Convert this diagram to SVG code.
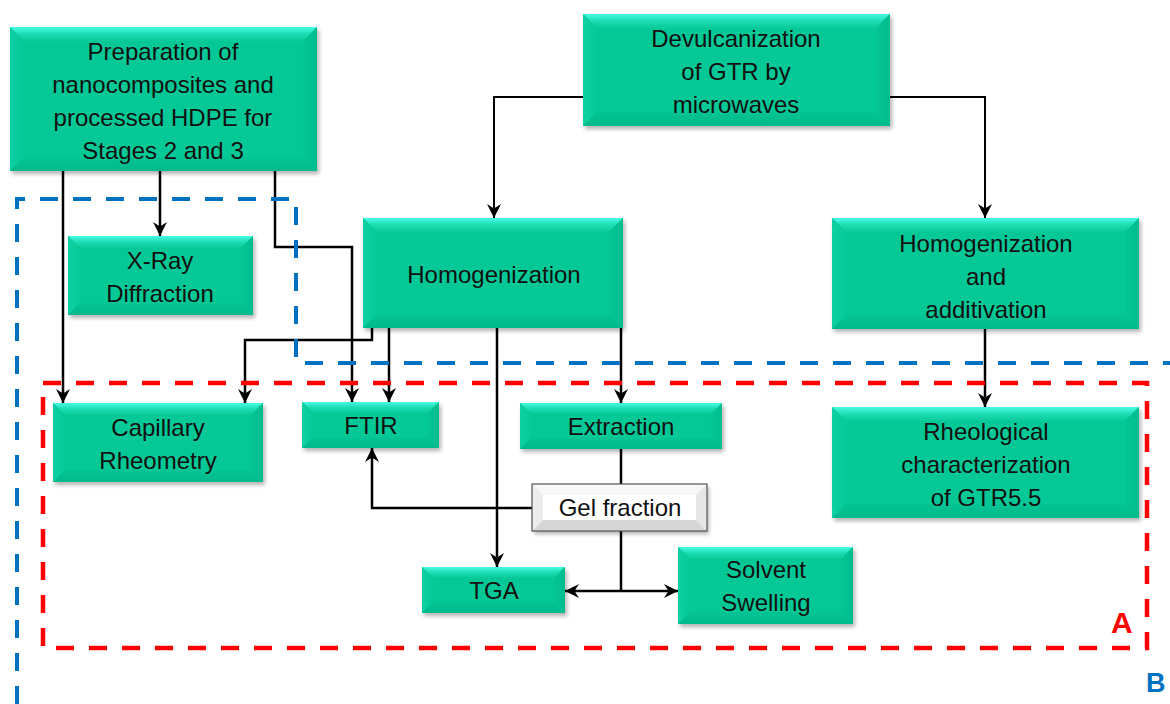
<svg xmlns="http://www.w3.org/2000/svg" width="1170" height="704" viewBox="0 0 1170 704">
<defs>
<style>
.face{fill:#05c897}
.bt{fill:url(#gTop)}
.bl{fill:url(#gLeft)}
.br{fill:url(#gRight)}
.bb{fill:url(#gBot)}
.gface{fill:#ffffff}
.gbt{fill:#f7f7f7}
.gbl{fill:#ececec}
.gbr{fill:#e6e6e6}
.gbb{fill:#d6d6d6}
.sh{fill:#000;opacity:.3;filter:url(#blur)}
.t{font-family:"Liberation Sans",Arial,sans-serif;font-size:24px;fill:#111;text-anchor:middle}
.c{fill:none;stroke:#000;stroke-width:2.5}
.ca{fill:none;stroke:#000;stroke-width:2.5;marker-end:url(#ar)}
.reg{fill:none}
</style>
<linearGradient id="gTop" x1="0" y1="0" x2="0" y2="1"><stop offset="0" stop-color="#48fce4"/><stop offset="0.5" stop-color="#1ddcb2"/><stop offset="1" stop-color="#08ca9a"/></linearGradient>
<linearGradient id="gLeft" x1="0" y1="0" x2="1" y2="0"><stop offset="0" stop-color="#0ed0a4"/><stop offset="1" stop-color="#06c998"/></linearGradient>
<linearGradient id="gRight" x1="0" y1="0" x2="1" y2="0"><stop offset="0" stop-color="#05c595"/><stop offset="1" stop-color="#02bd8e"/></linearGradient>
<linearGradient id="gBot" x1="0" y1="0" x2="0" y2="1"><stop offset="0" stop-color="#04c494"/><stop offset="1" stop-color="#01b98a"/></linearGradient>
<filter id="blur" x="-10%" y="-10%" width="120%" height="130%"><feGaussianBlur stdDeviation="2"/></filter>
<marker id="ar" markerUnits="userSpaceOnUse" markerWidth="16" markerHeight="16" refX="14" refY="7" orient="auto" overflow="visible">
<path d="M0,0 L14,7 L0,14 L4.5,7 z" fill="#000"/>
</marker>
<marker id="ars" markerUnits="userSpaceOnUse" markerWidth="16" markerHeight="16" refX="14" refY="7" orient="auto-start-reverse" overflow="visible">
<path d="M0,0 L14,7 L0,14 L4.5,7 z" fill="#000"/>
</marker>
</defs>
<rect width="1170" height="704" fill="#fff"/>

<g id="connectors">
<path class="ca" d="M63,171 V403"/>
<path class="ca" d="M160,171 V236"/>
<path class="ca" d="M275,171 V247 H352 V402"/>
<path class="ca" d="M372,328 V340 H245 V403"/>
<path class="ca" d="M389,328 V402"/>
<path class="ca" d="M497,328 V567"/>
<path class="ca" d="M621,328 V403"/>
<path class="c" d="M621,449 V484"/>
<path class="c" d="M621,531 V591"/>
<path class="c" d="M565,591 H678" marker-start="url(#ars)" marker-end="url(#ar)"/>
<path class="ca" d="M532,508 H372 V448"/>
<path class="ca" d="M583,97 H494 V218" style="stroke-width:2"/>
<path class="ca" d="M890,97 H985 V218" style="stroke-width:2"/>
<path class="ca" d="M985,329 V407"/>
</g>

<g id="region-B">
<path class="reg" d="M17,704 V199 H296 V363 H1170" stroke="#0070c0" stroke-width="4" stroke-dasharray="18 15"/>
<text x="1146" y="692" font-family="Liberation Sans,Arial,sans-serif" font-weight="bold" font-size="27" fill="#0070c0">B</text>
</g>
<g id="region-A">
<rect class="reg" x="43" y="383" width="1104" height="265" stroke="#ff0000" stroke-width="4.5" stroke-dasharray="18 15"/>
<text x="1111" y="633" font-family="Liberation Sans,Arial,sans-serif" font-weight="bold" font-size="30" fill="#ff0000">A</text>
</g>

<g id="n-prep">
<rect class="sh" x="12" y="30" width="307" height="144"/>
<rect class="face" x="10" y="27" width="307" height="144"/>
<polygon class="bt" points="10,27 317,27 303,41 24,41"/>
<polygon class="bl" points="10,27 24,41 24,157 10,171"/>
<polygon class="br" points="317,27 317,171 303,157 303,41"/>
<polygon class="bb" points="10,171 317,171 303,157 24,157"/>
<text class="t" x="163" y="60">Preparation of</text>
<text class="t" x="163" y="93">nanocomposites and</text>
<text class="t" x="163" y="126">processed HDPE for</text>
<text class="t" x="163" y="159">Stages 2 and 3</text>
</g>

<g id="n-devulc">
<rect class="sh" x="585" y="17" width="307" height="112"/>
<rect class="face" x="583" y="14" width="307" height="112"/>
<polygon class="bt" points="583,14 890,14 876,28 597,28"/>
<polygon class="bl" points="583,14 597,28 597,112 583,126"/>
<polygon class="br" points="890,14 890,126 876,112 876,28"/>
<polygon class="bb" points="583,126 890,126 876,112 597,112"/>
<text class="t" x="736" y="47">Devulcanization</text>
<text class="t" x="736" y="80">of GTR by</text>
<text class="t" x="736" y="113">microwaves</text>
</g>

<g id="n-homog">
<rect class="sh" x="365" y="221" width="260" height="110"/>
<rect class="face" x="363" y="218" width="260" height="110"/>
<polygon class="bt" points="363,218 623,218 609,232 377,232"/>
<polygon class="bl" points="363,218 377,232 377,314 363,328"/>
<polygon class="br" points="623,218 623,328 609,314 609,232"/>
<polygon class="bb" points="363,328 623,328 609,314 377,314"/>
<text class="t" x="494" y="283">Homogenization</text>
</g>

<g id="n-homogadd">
<rect class="sh" x="834" y="221" width="307" height="111"/>
<rect class="face" x="832" y="218" width="307" height="111"/>
<polygon class="bt" points="832,218 1139,218 1125,232 846,232"/>
<polygon class="bl" points="832,218 846,232 846,315 832,329"/>
<polygon class="br" points="1139,218 1139,329 1125,315 1125,232"/>
<polygon class="bb" points="832,329 1139,329 1125,315 846,315"/>
<text class="t" x="986" y="252">Homogenization</text>
<text class="t" x="986" y="285">and</text>
<text class="t" x="986" y="318">additivation</text>
</g>

<g id="n-xray">
<rect class="sh" x="70" y="239" width="185" height="79"/>
<rect class="face" x="68" y="236" width="185" height="79"/>
<polygon class="bt" points="68,236 253,236 241,248 80,248"/>
<polygon class="bl" points="68,236 80,248 80,303 68,315"/>
<polygon class="br" points="253,236 253,315 241,303 241,248"/>
<polygon class="bb" points="68,315 253,315 241,303 80,303"/>
<text class="t" x="160" y="269">X-Ray</text>
<text class="t" x="160" y="302">Diffraction</text>
</g>

<g id="n-capillary">
<rect class="sh" x="55" y="406" width="210" height="79"/>
<rect class="face" x="53" y="403" width="210" height="79"/>
<polygon class="bt" points="53,403 263,403 251,415 65,415"/>
<polygon class="bl" points="53,403 65,415 65,470 53,482"/>
<polygon class="br" points="263,403 263,482 251,470 251,415"/>
<polygon class="bb" points="53,482 263,482 251,470 65,470"/>
<text class="t" x="158" y="436">Capillary</text>
<text class="t" x="158" y="469">Rheometry</text>
</g>

<g id="n-ftir">
<rect class="sh" x="304" y="405" width="137" height="46"/>
<rect class="face" x="302" y="402" width="137" height="46"/>
<polygon class="bt" points="302,402 439,402 428,413 313,413"/>
<polygon class="bl" points="302,402 313,413 313,437 302,448"/>
<polygon class="br" points="439,402 439,448 428,437 428,413"/>
<polygon class="bb" points="302,448 439,448 428,437 313,437"/>
<text class="t" x="371" y="434">FTIR</text>
</g>

<g id="n-extraction">
<rect class="sh" x="522" y="406" width="202" height="46"/>
<rect class="face" x="520" y="403" width="202" height="46"/>
<polygon class="bt" points="520,403 722,403 711,414 531,414"/>
<polygon class="bl" points="520,403 531,414 531,438 520,449"/>
<polygon class="br" points="722,403 722,449 711,438 711,414"/>
<polygon class="bb" points="520,449 722,449 711,438 531,438"/>
<text class="t" x="621" y="435">Extraction</text>
</g>

<g id="n-rheological">
<rect class="sh" x="834" y="410" width="307" height="111"/>
<rect class="face" x="832" y="407" width="307" height="111"/>
<polygon class="bt" points="832,407 1139,407 1125,421 846,421"/>
<polygon class="bl" points="832,407 846,421 846,504 832,518"/>
<polygon class="br" points="1139,407 1139,518 1125,504 1125,421"/>
<polygon class="bb" points="832,518 1139,518 1125,504 846,504"/>
<text class="t" x="986" y="440">Rheological</text>
<text class="t" x="986" y="473">characterization</text>
<text class="t" x="986" y="506">of GTR5.5</text>
</g>

<g id="n-gel">
<rect class="sh" x="534" y="487" width="175" height="47"/>
<rect class="gface" x="532" y="484" width="175" height="47"/>
<polygon class="gbt" points="532,484 707,484 696,495 543,495"/>
<polygon class="gbl" points="532,484 543,495 543,520 532,531"/>
<polygon class="gbr" points="707,484 707,531 696,520 696,495"/>
<polygon class="gbb" points="532,531 707,531 696,520 543,520"/>
<rect x="532" y="484" width="175" height="47" fill="none" stroke="#555" stroke-width="1.2"/>
<text class="t" x="620" y="516">Gel fraction</text>
</g>

<g id="n-tga">
<rect class="sh" x="424" y="570" width="143" height="46"/>
<rect class="face" x="422" y="567" width="143" height="46"/>
<polygon class="bt" points="422,567 565,567 554,578 433,578"/>
<polygon class="bl" points="422,567 433,578 433,602 422,613"/>
<polygon class="br" points="565,567 565,613 554,602 554,578"/>
<polygon class="bb" points="422,613 565,613 554,602 433,602"/>
<text class="t" x="494" y="599">TGA</text>
</g>

<g id="n-solvent">
<rect class="sh" x="680" y="550" width="175" height="77"/>
<rect class="face" x="678" y="547" width="175" height="77"/>
<polygon class="bt" points="678,547 853,547 841,559 690,559"/>
<polygon class="bl" points="678,547 690,559 690,612 678,624"/>
<polygon class="br" points="853,547 853,624 841,612 841,559"/>
<polygon class="bb" points="678,624 853,624 841,612 690,612"/>
<text class="t" x="766" y="578">Solvent</text>
<text class="t" x="766" y="611">Swelling</text>
</g>
</svg>
